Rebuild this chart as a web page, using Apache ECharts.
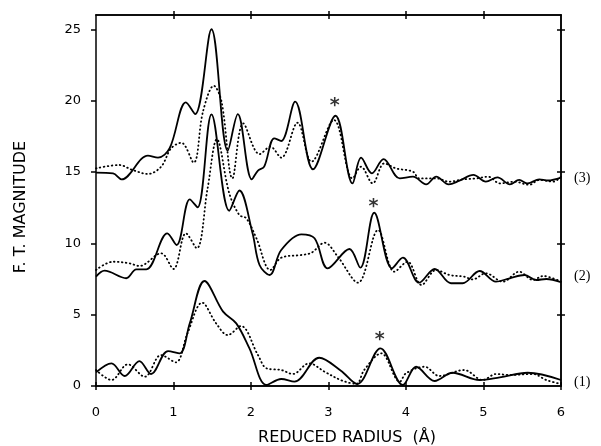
<!DOCTYPE html>
<html>
<head>
<meta charset="utf-8">
<script src="https://cdn.jsdelivr.net/npm/echarts@6/dist/echarts.min.js"></script>
<style>html,body{margin:0;padding:0;background:#fff}#c{width:601px;height:446px}</style>
</head>
<body>
<div id="c"></div>
<script>
// ---- data ----
const xTicks = [0, 1, 2, 3, 4, 5, 6];
const yTicks = [0, 5, 10, 15, 20, 25];
const curveLabels = ['(1)', '(2)', '(3)'];

const c3SolidX = [0, 0.22, 0.33, 0.67, 0.80, 0.95, 1.16, 1.28, 1.49, 1.70, 1.83, 2.01, 2.09, 2.17, 2.30, 2.39, 2.57, 2.80, 3.09, 3.31, 3.42, 3.56, 3.71, 3.92, 4.09, 4.26, 4.39, 4.55, 4.69, 4.87, 5.03, 5.18, 5.34, 5.46, 5.57, 5.72, 5.83, 6.0];
const c3SolidY = [14.95, 14.9, 14.48, 16.14, 16.0, 16.66, 19.88, 19.06, 25.0, 16.5, 19.06, 14.48, 15.1, 15.37, 17.36, 17.17, 19.93, 15.19, 18.94, 14.2, 16.0, 14.9, 15.9, 14.55, 14.67, 14.13, 14.67, 14.13, 14.39, 14.79, 14.32, 14.62, 14.13, 14.44, 14.2, 14.48, 14.4, 14.6];

const c3DotX = [0, 0.30, 0.47, 0.67, 0.84, 0.97, 1.10, 1.26, 1.38, 1.52, 1.62, 1.76, 1.90, 2.11, 2.25, 2.39, 2.60, 2.78, 3.07, 3.31, 3.42, 3.57, 3.72, 3.87, 4.09, 4.17, 4.39, 4.56, 4.73, 4.91, 5.06, 5.21, 5.40, 5.59, 5.72, 5.90, 6.0];
const c3DotY = [15.25, 15.49, 15.14, 14.86, 15.37, 16.66, 17.05, 15.65, 19.22, 21.04, 19.93, 14.55, 18.4, 16.25, 16.77, 16.0, 18.45, 15.72, 18.64, 14.55, 15.37, 14.2, 15.6, 15.25, 15.02, 14.55, 14.55, 14.32, 14.48, 14.55, 14.67, 14.2, 14.32, 14.1, 14.44, 14.32, 14.67];

const c2SolidX = [0, 0.11, 0.39, 0.52, 0.65, 0.92, 1.04, 1.21, 1.31, 1.49, 1.72, 1.85, 2.02, 2.11, 2.24, 2.39, 2.65, 2.82, 2.99, 3.27, 3.41, 3.59, 3.82, 3.96, 4.17, 4.37, 4.58, 4.73, 4.95, 5.16, 5.34, 5.53, 5.68, 5.81, 6.0];
const c2SolidY = [7.66, 8.08, 7.55, 8.18, 8.18, 10.7, 9.88, 13.08, 12.52, 19.04, 12.28, 13.7, 10.7, 8.48, 7.78, 9.53, 10.63, 10.35, 8.25, 9.6, 8.29, 12.14, 8.25, 8.99, 7.24, 8.2, 7.2, 7.2, 8.06, 7.31, 7.55, 7.78, 7.43, 7.5, 7.27];

const c2DotX = [0, 0.22, 0.43, 0.56, 0.84, 1.0, 1.16, 1.30, 1.44, 1.56, 1.72, 1.85, 1.94, 2.07, 2.25, 2.39, 2.65, 2.78, 2.95, 3.12, 3.38, 3.64, 3.85, 4.02, 4.20, 4.39, 4.56, 4.75, 4.86, 5.03, 5.25, 5.46, 5.64, 5.77, 6.0];
const c2DotY = [8.13, 8.71, 8.6, 8.41, 9.3, 8.2, 10.7, 9.65, 13.85, 17.3, 13.5, 11.98, 11.75, 10.35, 8.13, 8.99, 9.18, 9.34, 10.04, 9.06, 7.24, 10.93, 8.01, 8.71, 7.08, 8.13, 7.78, 7.66, 7.47, 7.9, 7.31, 8.01, 7.43, 7.71, 7.31];

const c1SolidX = [0, 0.20, 0.37, 0.56, 0.71, 0.93, 1.08, 1.21, 1.40, 1.64, 1.81, 1.98, 2.20, 2.39, 2.56, 2.88, 3.16, 3.37, 3.67, 3.96, 4.13, 4.37, 4.60, 4.95, 5.21, 5.57, 6.0];
const c1SolidY = [0.95, 1.59, 0.7, 1.75, 0.84, 2.45, 2.29, 4.39, 7.36, 5.21, 4.39, 2.64, 0.07, 0.49, 0.3, 1.98, 1.07, 0.14, 2.64, 0.07, 1.35, 0.35, 0.93, 0.42, 0.61, 0.93, 0.42];

const c1DotX = [0, 0.20, 0.41, 0.63, 0.84, 1.03, 1.18, 1.37, 1.55, 1.70, 1.87, 2.09, 2.20, 2.39, 2.54, 2.75, 2.95, 3.18, 3.36, 3.46, 3.68, 3.92, 4.00, 4.24, 4.43, 4.75, 4.99, 5.16, 5.34, 5.64, 5.81, 6.0];
const c1DotY = [1.12, 0.42, 1.52, 0.65, 2.17, 1.66, 3.69, 5.84, 4.39, 3.57, 4.2, 2.17, 1.24, 1.12, 0.84, 1.59, 1.0, 0.37, 0.15, 1.12, 2.29, 0.3, 0.89, 1.35, 0.7, 1.12, 0.42, 0.84, 0.77, 0.84, 0.42, 0.14];

const starX = [3.08, 3.58, 3.66];
const starY = [19.97, 12.9, 3.57];

// ---- chart ----
const zip = (xs, ys) => xs.map((x, i) => [x, ys[i]]);
const FONT = 'DejaVu Sans';
const axisLineStyle = { color: '#000', width: 1.5 };
const tickStyle = { color: '#000', width: 1.5 };

function xAx(pos, inside, showLabel, ticks) {
  return {
    type: 'value', min: 0, max: 6, interval: 1, position: pos,
    axisLine: { show: true, onZero: false, lineStyle: axisLineStyle },
    axisTick: { show: true, inside: inside, length: 4, lineStyle: tickStyle, customValues: ticks },
    axisLabel: { show: showLabel, color: '#000', fontFamily: FONT, fontSize: 13, margin: 20, customValues: xTicks },
    splitLine: { show: false }
  };
}
function yAx(pos, inside, showLabel, ticks) {
  return {
    type: 'value', min: 0, max: 26, position: pos,
    axisLine: { show: true, onZero: false, lineStyle: axisLineStyle },
    axisTick: { show: true, inside: inside, length: pos === 'left' ? 5 : 4, lineStyle: tickStyle, customValues: ticks },
    axisLabel: { show: showLabel, color: '#000', fontFamily: FONT, fontSize: 13, margin: 15, customValues: yTicks },
    splitLine: { show: false }
  };
}

const solid = { color: '#000', width: 1.8, type: 'solid' };
const dotted = { color: '#000', width: 1.8, type: [0.6, 3.4], cap: 'round' };

function lineSeries(xs, ys, style, endText, endOffset) {
  const s = {
    type: 'line', xAxisIndex: 0, yAxisIndex: 0,
    data: zip(xs, ys), showSymbol: false, symbol: 'none',
    smooth: 0.35, lineStyle: style, animation: false, z: 3
  };
  if (endText) {
    s.endLabel = {
      show: true, formatter: endText, distance: 13, offset: endOffset,
      color: '#000', fontFamily: 'Liberation Serif', fontSize: 14
    };
  }
  return s;
}

const chart = echarts.init(document.getElementById('c'), null, { renderer: 'canvas' });
chart.setOption({
  backgroundColor: '#fff',
  animation: false,
  grid: { left: 96, right: 40, top: 15, bottom: 60, containLabel: false },
  xAxis: [
    xAx('bottom', false, true, xTicks),
    xAx('bottom', true, false, xTicks),
    xAx('top', false, false, [1, 2, 3, 4, 5]),
    xAx('top', true, false, [1, 2, 3, 4, 5])
  ],
  yAxis: [
    yAx('left', false, true, yTicks),
    yAx('right', false, false, [5, 10, 15, 20, 25]),
    yAx('right', true, false, [5, 10, 15, 20, 25])
  ],
  series: [
    lineSeries(c3DotX, c3DotY, dotted),
    lineSeries(c3SolidX, c3SolidY, solid, curveLabels[2], [0, 1]),
    lineSeries(c2DotX, c2DotY, dotted),
    lineSeries(c2SolidX, c2SolidY, solid, curveLabels[1], [0, -6]),
    lineSeries(c1DotX, c1DotY, dotted),
    lineSeries(c1SolidX, c1SolidY, solid, curveLabels[0], [0, 2]),
    {
      type: 'scatter', xAxisIndex: 0, yAxisIndex: 0,
      data: zip(starX, starY), symbolSize: 0, animation: false,
      label: { show: true, formatter: '*', position: 'inside', offset: [0, 5],
               color: '#000', fontFamily: FONT, fontSize: 19, fontWeight: 'bold' }
    }
  ],
  graphic: [
    { type: 'text', x: 347, y: 438, style: { text: 'REDUCED RADIUS  (Å)', fill: '#000',
      font: '16px "DejaVu Sans"', align: 'center', verticalAlign: 'middle' } },
    { type: 'text', x: 21, y: 207, rotation: Math.PI / 2, style: { text: 'F. T. MAGNITUDE', fill: '#000',
      font: '16px "DejaVu Sans"', align: 'center', verticalAlign: 'middle' } }
  ]
});
</script>
</body>
</html>
